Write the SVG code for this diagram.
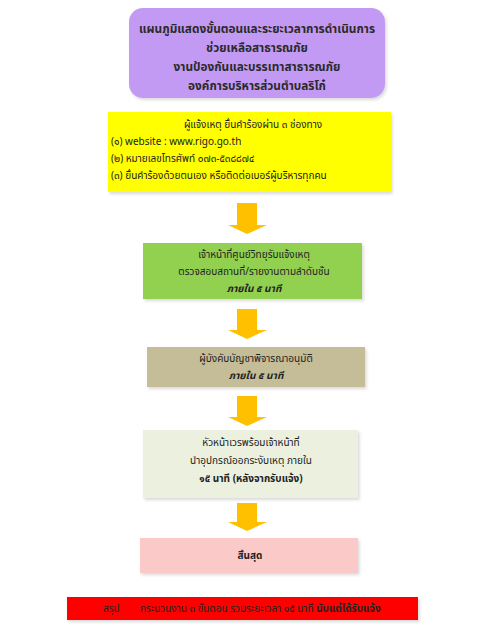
<svg xmlns="http://www.w3.org/2000/svg" width="500" height="633" viewBox="0 0 500 633">
<defs>
<style>
text{font-family:"Noto Sans","Noto Sans Thai","Liberation Sans",sans-serif;fill:#222;}
.t{font-size:11.8px;font-weight:bold;text-anchor:middle;fill:#2a2a2a;}
.s{font-size:10px;}
.c{text-anchor:middle;}
.b{font-weight:bold;}
.bi{font-weight:bold;font-style:italic;}
.arrow{fill:#ffc000;}
</style>
<filter id="sh" x="-5%" y="-10%" width="115%" height="130%">
<feDropShadow dx="1.5" dy="2" stdDeviation="1.5" flood-color="#000" flood-opacity="0.15"/>
</filter>
<linearGradient id="ag" x1="0" y1="0" x2="0" y2="1">
<stop offset="0" stop-color="#ffc000"/>
<stop offset="1" stop-color="#f5b000"/>
</linearGradient>
</defs>
<rect width="500" height="633" fill="#fff"/>

<g id="title">
<rect x="129" y="8" width="256" height="90" rx="14" fill="#c39af3" filter="url(#sh)"/>
<text class="t" x="257" y="33">แผนภูมิแสดงขั้นตอนและระยะเวลาการดำเนินการ</text>
<text class="t" x="257" y="52">ช่วยเหลือสาธารณภัย</text>
<text class="t" x="257" y="71">งานป้องกันและบรรเทาสาธารณภัย</text>
<text class="t" x="257" y="90">องค์การบริหารส่วนตำบลริโก๋</text>
</g>

<g id="report">
<rect x="108" y="112" width="283" height="80" fill="#ffff00" filter="url(#sh)"/>
<text class="s c" x="253" y="128">ผู้แจ้งเหตุ ยื่นคำร้องผ่าน ๓ ช่องทาง</text>
<text class="s" x="111" y="145">(๑) website : www.rigo.go.th</text>
<text class="s" x="111" y="162">(๒) หมายเลขโทรศัพท์ ๐๗๓-๕๓๘๘๗๔</text>
<text class="s" x="111" y="179">(๓) ยื่นคำร้องด้วยตนเอง หรือติดต่อเบอร์ผู้บริหารทุกคน</text>
</g>

<g id="connectors">
<path class="arrow" fill="url(#ag)" d="M237,203 H257 V225 H267 L247,234 L228,225 H237 Z"/>
<path class="arrow" fill="url(#ag)" d="M237,309 H257 V330 H267 L247,339 L228,330 H237 Z"/>
<path class="arrow" fill="url(#ag)" d="M237,396 H257 V417 H267 L247,426 L228,417 H237 Z"/>
<path class="arrow" fill="url(#ag)" d="M237,503 H257 V522 H267 L247,531 L228,522 H237 Z"/>
</g>

<g id="radio">
<rect x="143" y="243" width="219" height="56" fill="#92d050" filter="url(#sh)"/>
<text class="s c" x="254" y="258">เจ้าหน้าที่ศูนย์วิทยุรับแจ้งเหตุ</text>
<text class="s c" x="254" y="275">ตรวจสอบสถานที่/รายงานตามลำดับชั้น</text>
<text class="s c bi" x="254" y="292">ภายใน ๕  นาที</text>
</g>

<g id="commander">
<rect x="147" y="347" width="218" height="40" fill="#c4bd97" filter="url(#sh)"/>
<text class="s c" x="256" y="362">ผู้บังคับบัญชาพิจารณาอนุมัติ</text>
<text class="s c bi" x="256" y="379">ภายใน ๕  นาที</text>
</g>

<g id="dispatch">
<rect x="143" y="430" width="215" height="68" fill="#ebf1de" filter="url(#sh)"/>
<text class="s c" x="251" y="446">หัวหน้าเวรพร้อมเจ้าหน้าที่</text>
<text class="s c" x="251" y="464">นำอุปกรณ์ออกระงับเหตุ ภายใน</text>
<text class="s c b" x="251" y="482">๑๕ นาที (หลังจากรับแจ้ง)</text>
</g>

<g id="end">
<rect x="140" y="538" width="218" height="35" fill="#fcc9c9" filter="url(#sh)"/>
<text class="s c b" x="250" y="559">สิ้นสุด</text>
</g>

<g id="summary">
<rect x="67" y="597" width="351" height="23" fill="#ff0000" filter="url(#sh)"/>
<text class="s" x="103" y="612" font-size="9.5">สรุป</text>
<text class="s" x="140" y="612" font-size="9.5">กระบวนงาน ๓ ขั้นตอน  รวมระยะเวลา ๑๕ นาที <tspan font-weight="bold">นับแต่ได้รับแจ้ง</tspan></text>
</g>
</svg>
